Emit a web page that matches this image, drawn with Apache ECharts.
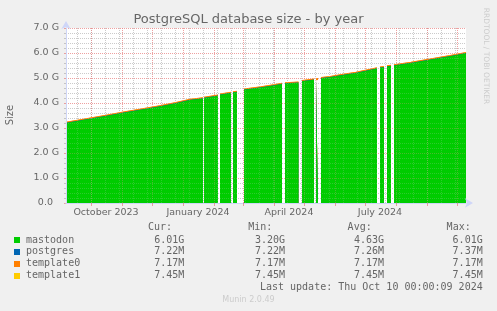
<!DOCTYPE html>
<html><head><meta charset="utf-8">
<script src="https://cdn.jsdelivr.net/npm/echarts@6/dist/echarts.min.js"></script>
<style>html,body{margin:0;padding:0;background:#f0f0f0;}#c{width:497px;height:311px;}</style>
</head><body><div id="c"></div>
<script>
// ---- data ----
const startDate = '2023-09-06';           // left edge of the 400-day window
const days = [0,20,40,56,75,95,110,124,137,137.5,
  138,152,153,154,165,166,167,171,174.5,178,
  195,209,216,217.5,219,232.5,234,236,248,249,
  250,252,253.5,255,264,274,290,311,312.5,314,
  318,319.5,321,325,326.5,328,345,364,384,400];
const mastodonG = [3.20,3.34,3.48,3.60,3.73,3.87,3.99,4.12,4.18,null,
  4.20,4.29,null,4.33,4.40,null,4.42,4.44,null,4.53,
  4.62,4.71,4.76,null,4.78,4.81,null,4.87,4.93,null,
  4.94,4.95,null,4.99,5.03,5.10,5.20,5.38,null,5.41,
  5.43,null,5.46,5.48,null,5.50,5.60,5.73,5.87,5.99];
const postgresM = [7.37,7.36,7.35,7.33,7.32,7.31,7.30,7.29,7.28,null,
  7.28,7.27,null,7.27,7.27,null,7.26,7.26,null,7.26,
  7.26,7.25,7.25,null,7.25,7.25,null,7.24,7.24,null,
  7.24,7.24,null,7.24,7.23,7.23,7.23,7.23,null,7.23,
  7.23,null,7.23,7.22,null,7.22,7.22,7.22,7.22,7.22];
const template0M = [7.17,7.17,7.17,7.17,7.17,7.17,7.17,7.17,7.17,null,
  7.17,7.17,null,7.17,7.17,null,7.17,7.17,null,7.17,
  7.17,7.17,7.17,null,7.17,7.17,null,7.17,7.17,null,
  7.17,7.17,null,7.17,7.17,7.17,7.17,7.17,null,7.17,
  7.17,null,7.17,7.17,null,7.17,7.17,7.17,7.17,7.17];
const template1M = [7.45,7.45,7.45,7.45,7.45,7.45,7.45,7.45,7.45,null,
  7.45,7.45,null,7.45,7.45,null,7.45,7.45,null,7.45,
  7.45,7.45,7.45,null,7.45,7.45,null,7.45,7.45,null,
  7.45,7.45,null,7.45,7.45,7.45,7.45,7.45,null,7.45,
  7.45,null,7.45,7.45,null,7.45,7.45,7.45,7.45,7.45];
const seriesNames = ['mastodon','postgres','template0','template1'];
const statCur = ['6.01G','7.22M','7.17M','7.45M'];
const statMin = ['3.20G','7.22M','7.17M','7.45M'];
const statAvg = ['4.63G','7.26M','7.17M','7.45M'];
const statMax = ['6.01G','7.37M','7.17M','7.45M'];
const monthStarts = ['2023-10-01','2023-11-01','2023-12-01','2024-01-01','2024-02-01','2024-03-01',
  '2024-04-01','2024-05-01','2024-06-01','2024-07-01','2024-08-01','2024-09-01','2024-10-01'];
const labelMonths = ['2023-10-16','2024-01-16','2024-04-16','2024-07-16'];
const labelNames = ['October 2023','January 2024','April 2024','July 2024'];
const minorGridStart = '2023-09-17';
const yMax = 7, yStep = 1;
const titleText = 'PostgreSQL database size - by year';
const lastUpdate = 'Last update: Thu Oct 10 00:00:09 2024';

// ---- helpers ----
const colors = ['#00cc00','#0066b3','#ff8000','#ffcc00'];
const DAY = 864e5;
const t0 = Date.parse(startDate + 'T00:00:00Z');
const dayOf = s => (Date.parse(s + 'T00:00:00Z') - t0) / DAY;
const monthDays = monthStarts.map(dayOf);
const labelDays = labelMonths.map(dayOf);
const labelMap = {}; labelDays.forEach((d,i)=>labelMap[d]=labelNames[i]);
const minorDays = []; for (let d = dayOf(minorGridStart); d < 400; d += 14) minorDays.push(d);
const crisp = 0.5; // half-pixel shift so 1px dotted grid lines render sharp
const valsG = [mastodonG, postgresM.map(v=>v==null?null:v/1024), template0M.map(v=>v==null?null:v/1024), template1M.map(v=>v==null?null:v/1024)];
const cum = valsG.map((_,k)=>days.map((d,i)=>{
  if (valsG[0][i]==null) return [d, null];
  let s=0; for (let j=0;j<=k;j++) s+=valsG[j][i]; return [d, s];
}));

const grayU = 'rgba(143,143,143,0.45)', redU = 'rgba(222,79,79,0.5)';
const grayO = 'rgba(200,200,200,0.22)', redO = 'rgba(240,150,150,0.3)';
const axisCol = '#CFD6F8';
const fontCol = '#666666';

const vLines = (g, r) => minorDays.map(d=>({xAxis:d+crisp, lineStyle:{color:g, type:[1,1], width:1}}))
  .concat(monthDays.map(d=>({xAxis:d+crisp, lineStyle:{color:r, type:[1,1], width:1}})));

const chart = echarts.init(document.getElementById('c'), null, {renderer:'canvas'});
const series = [];
series.push({ name:'gridUnder', type:'line', data:[], silent:true, animation:false, z:1,
  markLine:{silent:true, symbol:['none','none'], label:{show:false}, animation:false, z:1, data:vLines(grayU, redU)} });
for (let k = 3; k >= 0; k--) {
  series.push({
    name:seriesNames[k], type:'line', data:cum[k], showSymbol:false, symbol:'none',
    connectNulls:false, animation:false, emphasis:{disabled:true}, silent:true,
    lineStyle:{width: k===2?2:(k===3?1:0), color:colors[k]},
    areaStyle:{color:colors[k], opacity:1, origin:'start'}, itemStyle:{color:colors[k]}, z: 2 + (3-k)*0.1
  });
}
series.push({ name:'gridOver', type:'line', data:[], silent:true, animation:false, z:5,
  markLine:{silent:true, symbol:['none','none'], label:{show:false}, animation:false, z:5, data:vLines(grayO, redO)} });

const graphic = [];
const mono = '10px "DejaVu Sans Mono"';
graphic.push({type:'text', x:248.5, y:20, style:{text:titleText, font:'13px "DejaVu Sans"', fill:fontCol, align:'center', verticalAlign:'middle', textAlign:'center', textVerticalAlign:'middle'}});
graphic.push({type:'text', x:10, y:115, rotation:Math.PI/2, style:{text:'Size', font:'10px "DejaVu Sans"', fill:fontCol, align:'center', verticalAlign:'middle', textAlign:'center', textVerticalAlign:'middle'}});
graphic.push({type:'text', x:486, y:56, rotation:-Math.PI/2, style:{text:'RRDTOOL / TOBI OETIKER', font:'7.5px "DejaVu Sans"', fill:'#cccccc', align:'center', verticalAlign:'middle', textAlign:'center', textVerticalAlign:'middle'}});
const hdrX = [172, 272.3, 371.7, 470.7], valX = [184.3, 285, 384, 482.7];
['Cur:','Min:','Avg:','Max:'].forEach((h,j)=>graphic.push({type:'text', x:hdrX[j], y:227.5, style:{text:h, font:mono, fill:fontCol, align:'right', verticalAlign:'middle', textAlign:'right', textVerticalAlign:'middle'}}));
const stats = [statCur, statMin, statAvg, statMax];
seriesNames.forEach((n,i)=>{
  const y = 240 + i*11.9;
  graphic.push({type:'rect', shape:{x:14, y:Math.round(y)-3, width:6, height:6}, style:{fill:colors[i]}});
  graphic.push({type:'text', x:26, y:y, style:{text:n, font:mono, fill:fontCol, align:'left', verticalAlign:'middle', textAlign:'left', textVerticalAlign:'middle'}});
  stats.forEach((s,j)=>graphic.push({type:'text', x:valX[j], y:y, style:{text:s[i], font:mono, fill:fontCol, align:'right', verticalAlign:'middle', textAlign:'right', textVerticalAlign:'middle'}}));
});
graphic.push({type:'text', x:482.7, y:287.7, style:{text:lastUpdate, font:mono, fill:fontCol, align:'right', verticalAlign:'middle', textAlign:'right', textVerticalAlign:'middle'}});
graphic.push({type:'text', x:248.5, y:300.3, style:{text:'Munin 2.0.49', font:'8px "DejaVu Sans"', fill:'#cccccc', align:'center', verticalAlign:'middle', textAlign:'center', textVerticalAlign:'middle'}});

chart.setOption({
  animation:false,
  backgroundColor:'#f0f0f0',
  grid:{left:66, top:28, width:400, height:175, show:true, backgroundColor:'#ffffff', borderWidth:0},
  xAxis:{type:'value', min:0, max:400, z:6,
    axisLine:{show:true, onZero:false, lineStyle:{color:axisCol, width:1}, symbol:['none','arrow'], symbolSize:[7,8], symbolOffset:[0,7]},
    axisTick:{show:true, customValues:monthDays, length:3, lineStyle:{color:redU}},
    axisLabel:{customValues:labelDays, formatter:v=>labelMap[v]||'', color:fontCol, fontFamily:'DejaVu Sans', fontSize:9.5, margin:5},
    splitLine:{show:false}},
  yAxis:[
    {type:'value', min:0, max:yMax, interval:yStep, z:0,
      axisLine:{show:false},
      axisTick:{show:true, length:2, lineStyle:{color:redU}},
      minorTick:{show:true, splitNumber:5, length:2, lineStyle:{color:grayU}},
      splitLine:{show:true, lineStyle:{color:redU, type:[1,1]}},
      minorSplitLine:{show:true, lineStyle:{color:grayU, type:[1,1]}},
      axisLabel:{formatter:v=> v===0 ? '0.0  ' : v.toFixed(1)+' G', color:fontCol, fontFamily:'DejaVu Sans', fontSize:9.5, margin:7}},
    {type:'value', min:0, max:yMax, interval:yStep, z:6, position:'left',
      axisLine:{show:true, onZero:false, lineStyle:{color:axisCol, width:1}, symbol:['none','arrow'], symbolSize:[7,8], symbolOffset:[0,7]},
      axisTick:{show:false}, axisLabel:{show:false},
      minorTick:{show:false, splitNumber:5},
      splitLine:{show:true, lineStyle:{color:redO, type:[1,1]}},
      minorSplitLine:{show:true, lineStyle:{color:grayO, type:[1,1]}}}
  ],
  series: series,
  graphic: graphic
});
</script></body></html>
